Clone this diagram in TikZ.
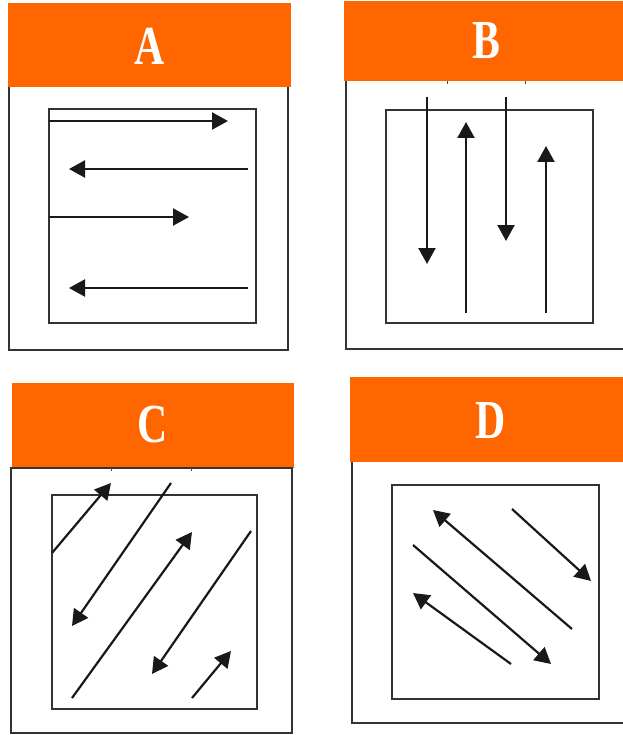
\documentclass[tikz,border=0pt]{standalone}
\usepackage{fontspec}
\setmainfont{Liberation Serif}
\usetikzlibrary{arrows.meta}
\definecolor{hdr}{HTML}{FF6600}
\newcommand\hdrtag[1]{\scalebox{0.76}[1]{#1}}
\begin{document}
\begin{tikzpicture}[x=1pt,y=-1pt,
  header/.style={fill=hdr,draw=none},
  frame/.style={draw=black!80,line width=1.8pt},
  flow/.style={draw=black!90,line width=2.2pt,-{Triangle[length=16pt,width=17pt]}},
  tick/.style={draw=black!70,line width=1pt},
  tag/.style={text=white,font=\bfseries\fontsize{55}{55}\selectfont,inner sep=0pt}]
\useasboundingbox (0,0) rectangle (622,735);

% ---------- A : horizontal passes ----------
\fill[header] (8,3) rectangle (291,87);
\draw[frame] (9,87) -- (9,350) -- (288,350) -- (288,87);
\draw[frame] (49,109) rectangle (256,323);
\node[tag] (tA) at (150,46) {\hdrtag{A}};
\coordinate (a1s) at (49,121);  \coordinate (a1e) at (228,121);
\coordinate (a2s) at (248,169); \coordinate (a2e) at (69,169);
\coordinate (a3s) at (49,217);  \coordinate (a3e) at (189,217);
\coordinate (a4s) at (248,288); \coordinate (a4e) at (69,288);
\draw[flow] (a1s) -- (a1e);
\draw[flow] (a2s) -- (a2e);
\draw[flow] (a3s) -- (a3e);
\draw[flow] (a4s) -- (a4e);

% ---------- B : vertical passes ----------
\fill[header] (344,1) rectangle (630,81);
\draw[frame] (630,349) -- (346,349) -- (346,81);
\draw[frame] (386,110) rectangle (593,323);
\draw[tick] (447,81) -- (447,84);
\draw[tick] (525,81) -- (525,84);
\node[tag] (tB) at (486,41) {\hdrtag{B}};
\coordinate (b1s) at (427,97);  \coordinate (b1e) at (427,264);
\coordinate (b2s) at (466,313); \coordinate (b2e) at (466,122);
\coordinate (b3s) at (506,97);  \coordinate (b3e) at (506,241);
\coordinate (b4s) at (546,313); \coordinate (b4e) at (546,146);
\draw[flow] (b1s) -- (b1e);
\draw[flow] (b2s) -- (b2e);
\draw[flow] (b3s) -- (b3e);
\draw[flow] (b4s) -- (b4e);

% ---------- C : rising diagonal passes ----------
\fill[header] (12,383) rectangle (294,468);
\draw[frame] (11,468) rectangle (292,733);
\draw[frame] (52,495) rectangle (257,709);
\draw[tick] (111,468) -- (111,471);
\draw[tick] (191,468) -- (191,471);
\node[tag] (tC) at (153,425) {\hdrtag{C}};
\coordinate (c1s) at (52,553);  \coordinate (c1e) at (111,483);
\coordinate (c2s) at (171,483); \coordinate (c2e) at (72,626);
\coordinate (c3s) at (72,698);  \coordinate (c3e) at (192,532);
\coordinate (c4s) at (251,531); \coordinate (c4e) at (152,674);
\coordinate (c5s) at (192,698); \coordinate (c5e) at (231,651);
\draw[flow] (c1s) -- (c1e);
\draw[flow] (c2s) -- (c2e);
\draw[flow] (c3s) -- (c3e);
\draw[flow] (c4s) -- (c4e);
\draw[flow] (c5s) -- (c5e);

% ---------- D : falling diagonal passes ----------
\fill[header] (350,377) rectangle (630,462);
\draw[frame] (352,462) -- (352,723) -- (630,723);
\draw[frame] (392,485) rectangle (599,699);
\node[tag] (tD) at (491,421) {\hdrtag{D}};
\coordinate (d1s) at (572,629); \coordinate (d1e) at (433,510);
\coordinate (d2s) at (512,509); \coordinate (d2e) at (591,581);
\coordinate (d3s) at (413,545); \coordinate (d3e) at (551,664);
\coordinate (d4s) at (511,664); \coordinate (d4e) at (413,593);
\draw[flow] (d1s) -- (d1e);
\draw[flow] (d2s) -- (d2e);
\draw[flow] (d3s) -- (d3e);
\draw[flow] (d4s) -- (d4e);
\end{tikzpicture}
\end{document}
